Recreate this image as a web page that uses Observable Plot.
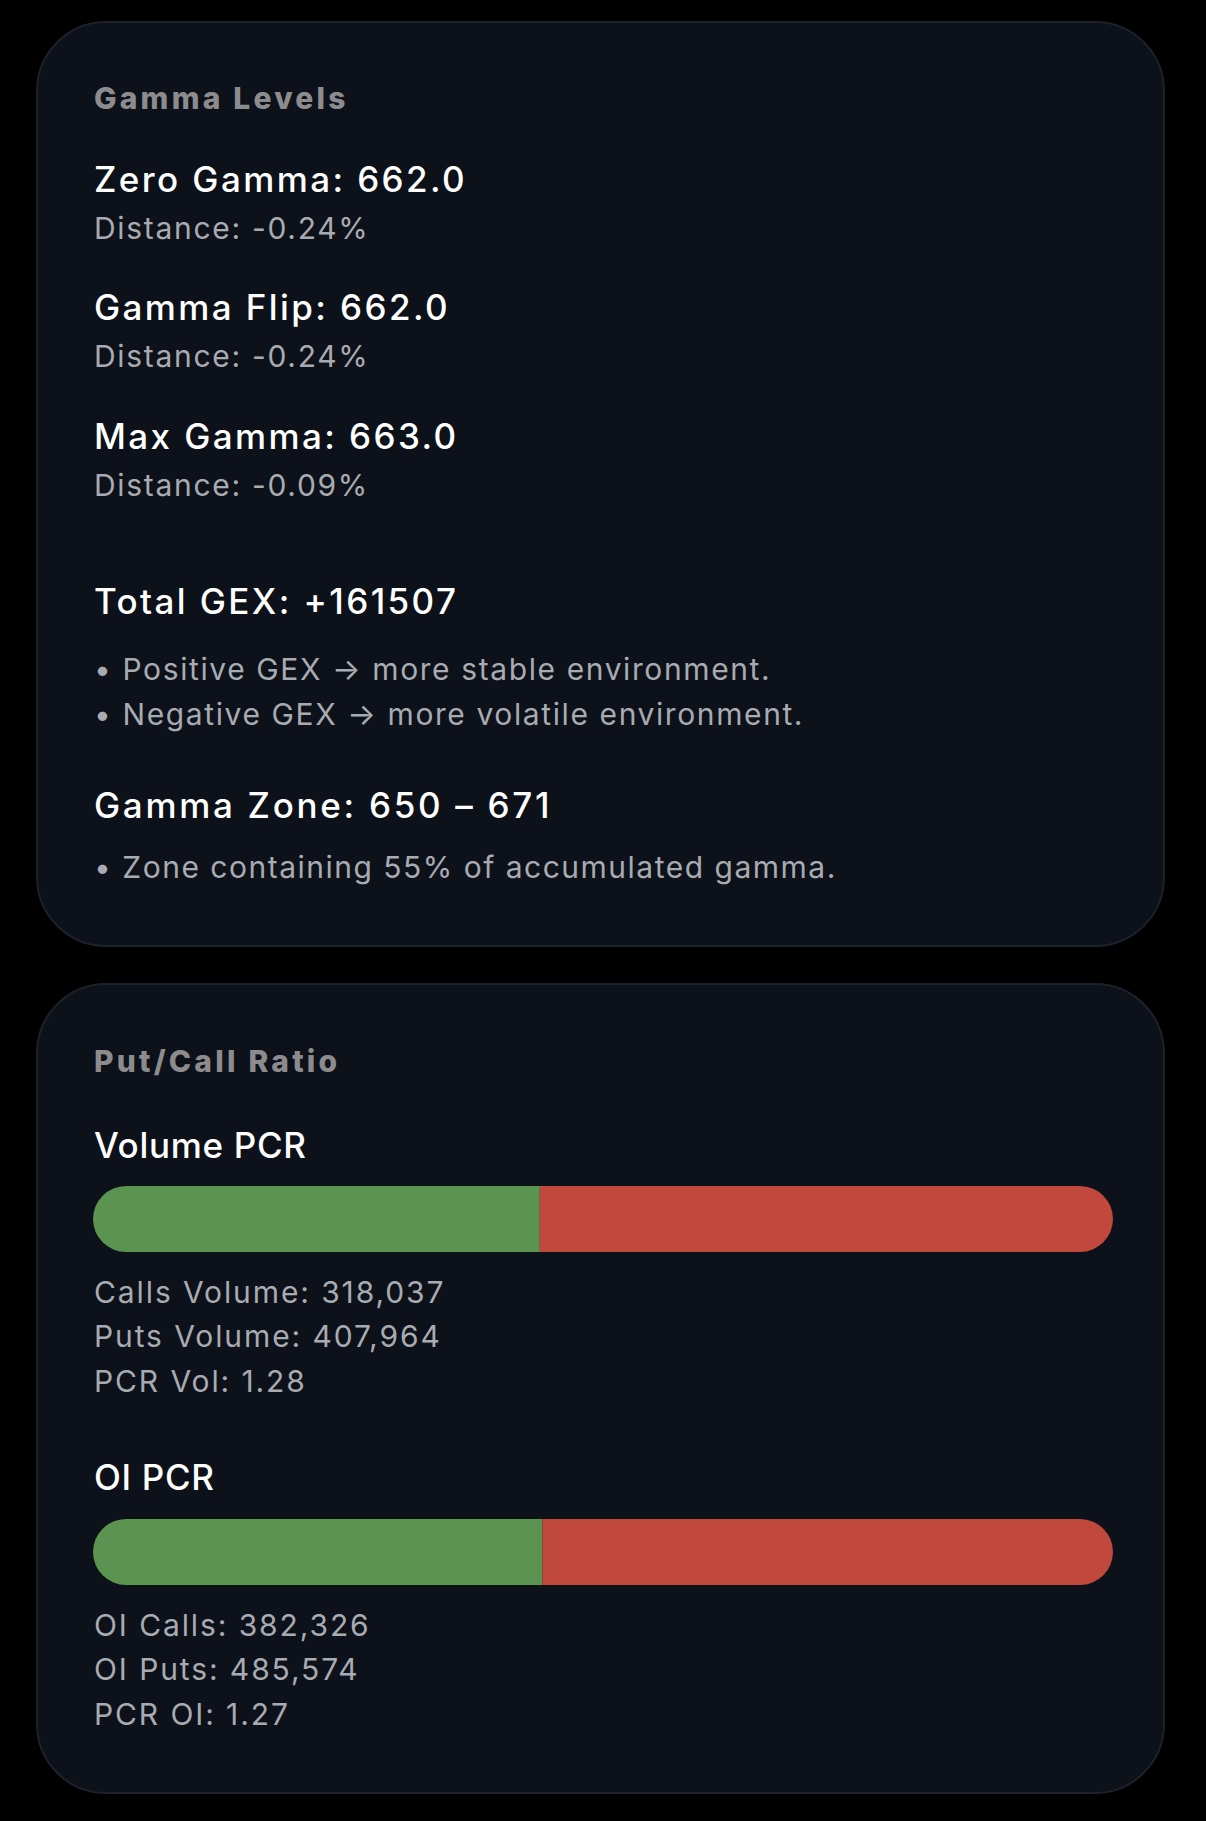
<!DOCTYPE html>
<html>
<head>
<meta charset="utf-8">
<script src="https://cdn.jsdelivr.net/npm/d3@7"></script>
<script src="https://cdn.jsdelivr.net/npm/@observablehq/plot@0.6"></script>
<style>
  html, body { margin: 0; padding: 0; background: #000; }
  body { width: 1206px; height: 1821px; position: relative; overflow: hidden;
         font-family: Inter, "Noto Sans", sans-serif; -webkit-font-smoothing: antialiased; }
  .card { position: absolute; left: 36px; width: 1129px; background: #0d1119;
          border: 2px solid #1d2129; border-radius: 70px; box-sizing: border-box; }
  .t { position: absolute; left: 94px; line-height: 1; white-space: nowrap; }
  .title { font-size: 30px; font-weight: 800; color: #8c8c8f; letter-spacing: 3.2px; }
  .head { font-size: 35px; font-weight: 500; color: #ffffff; letter-spacing: 2.4px; }
  .sub { font-size: 30px; font-weight: 400; color: #a8abb1; letter-spacing: 1.7px; }
  .bar { position: absolute; left: 93px; width: 1020px; height: 66px; border-radius: 33px; overflow: hidden; }
  .bar svg { display: block; }
</style>
</head>
<body>
<div class="card" style="top:21px;height:926px"></div>
<div class="card" style="top:983px;height:811px"></div>
<script>
// ---- data ----
const gammaLevelNames = ["Zero Gamma", "Gamma Flip", "Max Gamma"];
const gammaLevelValues = [662.0, 662.0, 663.0];
const gammaLevelDistances = [-0.24, -0.24, -0.09];
const totalGex = 161507;
const gexNotes = ["Positive GEX \u2192 more stable environment.", "Negative GEX \u2192 more volatile environment."];
const gammaZone = [650, 671];
const zoneShare = 55;

const pcrNames = ["Volume PCR", "OI PCR"];
const callLabels = ["Calls Volume", "OI Calls"];
const putLabels = ["Puts Volume", "OI Puts"];
const ratioLabels = ["PCR Vol", "PCR OI"];
const callValues = [318037, 382326];
const putValues = [407964, 485574];
const ratioValues = [1.28, 1.27];
const sides = ["Calls", "Puts"];
const sideColors = ["#5a9450", "#c0483c"];

// ---- layout helpers ----
function text(cls, str, centerY, spacing) {
  const d = document.createElement("div");
  d.className = "t " + cls;
  d.textContent = str;
  const size = cls === "head" ? 35 : 30;
  d.style.top = (centerY - size / 2) + "px";
  if (spacing != null) d.style.letterSpacing = spacing + "px";
  document.body.appendChild(d);
}
const fmt = d3.format(",");

// Card 1
text("title", "Gamma Levels", 98);
const levelY = [179, 307, 436];
gammaLevelNames.forEach((n, i) => {
  text("head", `${n}: ${gammaLevelValues[i].toFixed(1)}`, levelY[i]);
  text("sub", `Distance: ${gammaLevelDistances[i].toFixed(2)}%`, levelY[i] + 49);
});
text("head", `Total GEX: ${totalGex >= 0 ? "+" : ""}${totalGex}`, 601);
text("sub", "\u2022 " + gexNotes[0], 669, 1.6);
text("sub", "\u2022 " + gexNotes[1], 714, 1.6);
text("head", `Gamma Zone: ${gammaZone[0]} \u2013 ${gammaZone[1]}`, 805, 2.7);
text("sub", `\u2022 Zone containing ${zoneShare}% of accumulated gamma.`, 867, 1.5);

// Card 2
text("title", "Put/Call Ratio", 1061);
const pcrHeadY = [1145, 1477];
const barTop = [1186, 1519];
pcrNames.forEach((name, i) => {
  text("head", name, pcrHeadY[i], 0.7);
  const rows = [
    {side: sides[0], value: callValues[i]},
    {side: sides[1], value: putValues[i]}
  ];
  const chart = Plot.plot({
    width: 1020,
    height: 66,
    margin: 0,
    x: {domain: [0, callValues[i] + putValues[i]], axis: null},
    color: {domain: sides, range: sideColors},
    style: {background: "transparent"},
    marks: [
      Plot.barX(rows, Plot.stackX({x: "value", fill: "side", inset: 0}))
    ]
  });
  const wrap = document.createElement("div");
  wrap.className = "bar";
  wrap.style.top = barTop[i] + "px";
  wrap.appendChild(chart);
  document.body.appendChild(wrap);
  const y0 = barTop[i] + 106;
  text("sub", `${callLabels[i]}: ${fmt(callValues[i])}`, y0, 1.9);
  text("sub", `${putLabels[i]}: ${fmt(putValues[i])}`, y0 + 44, 1.9);
  text("sub", `${ratioLabels[i]}: ${ratioValues[i].toFixed(2)}`, y0 + 89, 1.9);
});
</script>
</body>
</html>
